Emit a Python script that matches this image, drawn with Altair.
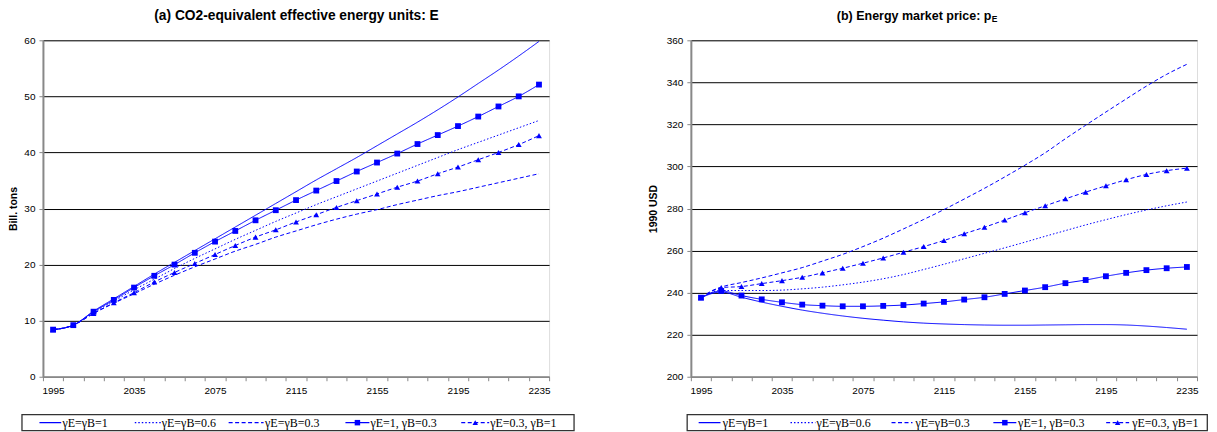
import altair as alt
import pandas as pd

years = list(range(1995, 2236, 10))
series_names = ["γE=γB=1", "γE=γB=0.6", "γE=γB=0.3", "γE=1, γB=0.3", "γE=0.3, γB=1"]

# (a) CO2-equivalent effective energy units (bill. tons)
E_11 = [8.4, 9.2, 11.7, 13.9, 16.1, 18.3, 20.4, 22.5, 24.6, 26.7, 28.8, 30.9, 33.0, 35.1, 37.1,
        39.1, 41.2, 43.3, 45.4, 47.6, 49.9, 52.3, 54.7, 57.2, 59.8]
E_06 = [8.4, 9.2, 11.5, 13.5, 15.5, 17.4, 19.3, 21.1, 22.8, 24.5, 26.1, 27.7, 29.2, 30.7, 32.1,
        33.5, 34.9, 36.3, 37.7, 39.1, 40.5, 41.8, 43.1, 44.4, 45.7]
E_03 = [8.4, 9.2, 11.3, 13.1, 14.8, 16.5, 18.1, 19.6, 21.0, 22.4, 23.6, 24.9, 26.0, 27.1, 28.1,
        29.0, 29.8, 30.7, 31.5, 32.3, 33.0, 33.8, 34.6, 35.4, 36.2]
E_1_03 = [8.4, 9.2, 11.6, 13.7, 15.9, 18.0, 20.0, 22.1, 24.1, 26.0, 27.9, 29.7, 31.5, 33.2, 34.9,
          36.6, 38.2, 39.8, 41.5, 43.1, 44.7, 46.4, 48.2, 50.0, 52.1]
E_03_1 = [8.4, 9.2, 11.3, 13.2, 15.0, 16.9, 18.6, 20.2, 21.8, 23.4, 24.9, 26.2, 27.6, 28.9, 30.2,
          31.4, 32.6, 33.8, 34.9, 36.2, 37.4, 38.7, 40.0, 41.4, 43.0]

# (b) Energy market price (1990 USD)
P_11 = [237.6, 240.3, 237.8, 235.5, 233.5, 231.7, 230.2, 228.9, 227.8, 226.9, 226.1, 225.5, 225.1,
        224.8, 224.6, 224.5, 224.5, 224.6, 224.7, 224.8, 224.8, 224.6, 224.1, 223.4, 222.6]
P_06 = [237.6, 241.0, 241.0, 241.0, 241.2, 241.8, 242.6, 243.7, 245.0, 246.6, 248.6, 251.0, 253.5,
        256.1, 258.7, 261.3, 264.0, 266.8, 269.5, 272.2, 274.7, 277.1, 279.3, 281.3, 283.1]
P_03 = [237.6, 242.6, 244.8, 247.0, 249.4, 251.9, 255.0, 258.2, 261.9, 265.9, 270.3, 274.8, 279.5,
        284.5, 289.6, 295.0, 300.6, 306.5, 313.2, 319.6, 325.9, 332.1, 338.2, 343.8, 348.6]
P_1_03 = [237.6, 240.8, 238.6, 236.8, 235.4, 234.3, 233.8, 233.5, 233.5, 233.7, 234.1, 234.8, 235.6,
          236.7, 237.8, 239.4, 241.0, 242.6, 244.5, 246.0, 247.8, 249.4, 250.7, 251.6, 252.2]
P_03_1 = [237.6, 242.4, 242.9, 244.3, 245.7, 247.3, 249.4, 251.6, 254.0, 256.5, 259.2, 261.9, 264.8,
          268.0, 271.1, 274.5, 278.0, 281.3, 284.6, 287.8, 290.8, 293.7, 296.2, 298.0, 299.2]

E_ticks = [0, 10, 20, 30, 40, 50, 60]
P_ticks = [200, 220, 240, 260, 280, 300, 320, 340, 360]

BLUE = "#0000ff"
W, H = 507, 337
DASHES = [[1, 0], [1.5, 2], [4, 2.5], [1, 0], [4, 2.5]]
MARKERS = [None, None, None, "square", "triangle-up"]
FONT = "Liberation Sans"
SERIF = "Liberation Serif"


def long_df(cols):
    rows = []
    for name, vals in zip(series_names, cols):
        for yr, v in zip(years, vals):
            rows.append({"year": yr, "value": v, "series": name})
    return pd.DataFrame(rows)


one = pd.DataFrame({"a": [0]})


def panel(cols, ydom, yticks, ytitle, tpad, title_main, title_sub, title_x, title_y, title_size,
          leg):
    df = long_df(cols)
    x = alt.X("year:O", bandPosition=0.5,
              scale=alt.Scale(type="band", paddingInner=0, paddingOuter=0),
              axis=alt.Axis(title=None, tickBand="extent", labelAngle=0,
                            labelExpr="(datum.value - 1995) % 40 == 0 ? datum.label : ''",
                            tickSize=4, labelPadding=5, domainWidth=1.5, labelFontSize=10))
    y = alt.Y("value:Q", scale=alt.Scale(domain=ydom, nice=False, zero=False),
              axis=alt.Axis(values=yticks, title=ytitle, grid=True, gridColor="#000000",
                            gridWidth=1, tickSize=4, labelPadding=4, domainWidth=2,
                            titleFontWeight="bold", titleFontSize=10.5, titlePadding=tpad))
    lines = alt.Chart(df).mark_line(strokeWidth=1, color=BLUE, interpolate="monotone").encode(
        x=x, y=y, detail="series:N",
        strokeDash=alt.StrokeDash("series:N", scale=alt.Scale(domain=series_names, range=DASHES),
                                  legend=None))
    pts = alt.Chart(df[df.series.isin(series_names[3:])]).mark_point(
        filled=True, color=BLUE, size=34, opacity=1).encode(
        x=x, y=y,
        shape=alt.Shape("series:N", scale=alt.Scale(domain=series_names[3:],
                                                    range=["square", "triangle-up"]), legend=None))
    layers = [lines, pts]
    # title
    if title_sub:
        layers.append(alt.Chart(one).mark_text(text=title_main, font=FONT, fontWeight="bold",
                                               fontSize=title_size, align="right",
                                               baseline="middle").encode(
            x=alt.value(title_x), y=alt.value(title_y)))
        layers.append(alt.Chart(one).mark_text(text=title_sub, font=FONT, fontWeight="bold",
                                               fontSize=8.5, align="left", baseline="middle").encode(
            x=alt.value(title_x + 0.5), y=alt.value(title_y + 3)))
    else:
        layers.append(alt.Chart(one).mark_text(text=title_main, font=FONT, fontWeight="bold",
                                               fontSize=title_size, align="center",
                                               baseline="middle").encode(
            x=alt.value(title_x), y=alt.value(title_y)))
    # legend
    bx0, bx1, items = leg
    layers.append(alt.Chart(one).mark_rect(fill="white", stroke="#333333", strokeWidth=1.3).encode(
        x=alt.value(bx0), x2=alt.value(bx1), y=alt.value(H + 38), y2=alt.value(H + 54)))
    ly = H + 46
    for name, dash, mk, (lx0, lx1, tx) in zip(series_names, DASHES, MARKERS, items):
        layers.append(alt.Chart(one).mark_rule(color=BLUE, strokeWidth=1.2, strokeDash=dash).encode(
            x=alt.value(lx0), x2=alt.value(lx1), y=alt.value(ly)))
        if mk:
            layers.append(alt.Chart(one).mark_point(shape=mk, filled=True, color=BLUE, size=30,
                                                    opacity=1).encode(
                x=alt.value((lx0 + lx1) / 2), y=alt.value(ly)))
        layers.append(alt.Chart(one).mark_text(text=name, font=SERIF, fontSize=12, align="left",
                                               baseline="middle", color="#000000").encode(
            x=alt.value(tx), y=alt.value(ly)))
    return alt.layer(*layers).properties(width=W, height=H)


leg_a = (-21, 532, [(-3.5, 18.3, 19.5), (92, 118, 119), (186, 221, 222.5), (303, 327, 328),
                    (419, 447, 448)])
leg_b = (-3.7, 517.3, [(7.8, 29.7, 32), (99.8, 124.7, 125.8), (201, 222, 225), (303, 326, 327.8),
                       (416, 439, 442)])

left = panel([E_11, E_06, E_03, E_1_03, E_03_1], [0, 60], E_ticks, "Bill. tons", 5,
             "(a) CO2-equivalent effective energy units: E", None, 254, -24.5, 13.8, leg_a)
right = panel([P_11, P_06, P_03, P_1_03, P_03_1], [200, 360], P_ticks, "1990 USD", 8,
              "(b) Energy market price: p", "E", 301, -24, 12.5, leg_b)

chart = alt.hconcat(left, right, spacing=71).properties(padding=0).configure_view(
    stroke="#909090", strokeWidth=1.5).configure_axis(
    labelFont=FONT, titleFont=FONT, labelColor="#222222", titleColor="#000000",
    domainColor="#000000", tickColor="#000000", labelFontSize=10.5).configure(background="white")

chart.save("out.html", embed_options={"renderer": "svg", "actions": False})
